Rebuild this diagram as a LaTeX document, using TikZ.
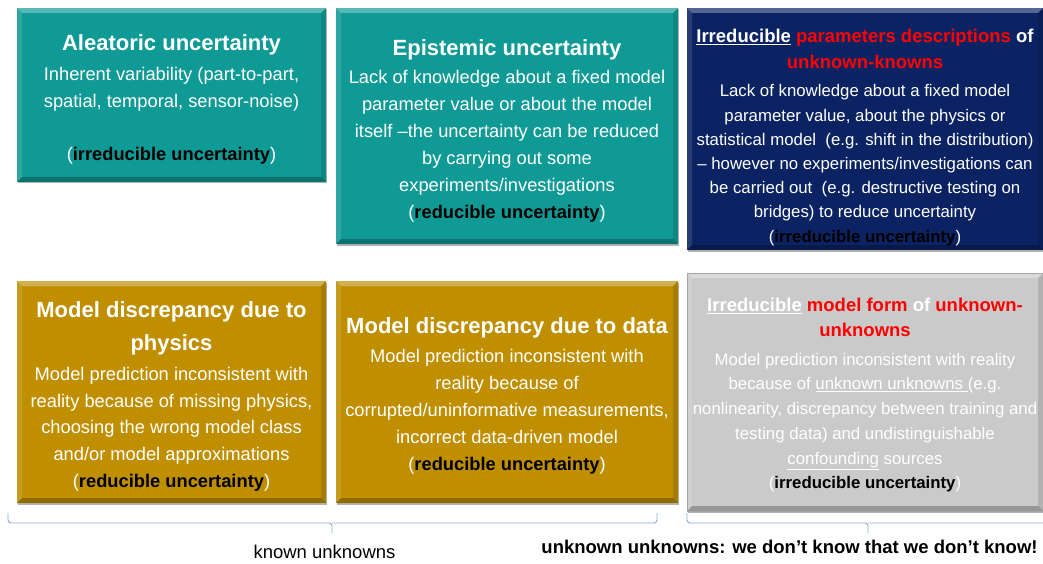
\documentclass[tikz,border=0pt]{standalone}
\usepackage{fontspec}
\setmainfont{Liberation Sans}
\usetikzlibrary{shadows}
\definecolor{tealbox}{RGB}{16,154,149}
\definecolor{navybox}{RGB}{11,35,99}
\definecolor{goldbox}{RGB}{191,143,0}
\definecolor{greybox}{RGB}{202,202,202}
\definecolor{greyedge}{RGB}{165,165,165}
\definecolor{bracecol}{RGB}{142,166,210}
\definecolor{redtxt}{RGB}{255,0,0}
\newcommand{\ttlbig}{\fontsize{22}{26}\selectfont\bfseries}
\newcommand{\ttlsmall}{\fontsize{18.5}{24}\selectfont\bfseries}
\newcommand{\blk}[1]{(\textbf{\color{black}#1})}
\newcommand{\rd}[1]{\textcolor{redtxt}{#1}}
\begin{document}
\begin{tikzpicture}[x=1pt,y=-1pt,
  bevel/.style={path picture={
    \fill[white,opacity=.30] (path picture bounding box.north west) -- (path picture bounding box.north east) -- ([xshift=-5pt,yshift=-5pt]path picture bounding box.north east) -- ([xshift=5pt,yshift=-5pt]path picture bounding box.north west) -- cycle;
    \fill[white,opacity=.12] (path picture bounding box.north west) -- ([xshift=5pt,yshift=-5pt]path picture bounding box.north west) -- ([xshift=5pt,yshift=5pt]path picture bounding box.south west) -- (path picture bounding box.south west) -- cycle;
    \fill[black,opacity=.12] (path picture bounding box.north east) -- ([xshift=-5pt,yshift=-5pt]path picture bounding box.north east) -- ([xshift=-5pt,yshift=5pt]path picture bounding box.south east) -- (path picture bounding box.south east) -- cycle;
    \fill[black,opacity=.25] (path picture bounding box.south west) -- ([xshift=5pt,yshift=5pt]path picture bounding box.south west) -- ([xshift=-5pt,yshift=5pt]path picture bounding box.south east) -- (path picture bounding box.south east) -- cycle;
  }},
  box/.style={rectangle, inner sep=0pt, outer sep=0pt, bevel,
    drop shadow={shadow xshift=1.2pt, shadow yshift=-1.5pt, opacity=0.3, fill=black}},
  txt/.style={align=center, text=white, inner sep=0pt, anchor=north},
  bracket/.style={draw=bracecol, line width=0.9pt, rounded corners=3pt},
  lbl/.style={anchor=base, text=black, inner sep=0pt, font=\fontsize{18.5}{22}\selectfont}
]
\useasboundingbox (0,0) rectangle (1043,564);

% boxes
\node[box, fill=tealbox, minimum width=309pt, minimum height=174pt] (alea) at (171.5,95) {};
\node[box, fill=tealbox, minimum width=342pt, minimum height=236pt] (epis) at (507,126) {};
\node[box, fill=navybox, minimum width=356pt, minimum height=242pt] (param) at (865,129) {};
\node[box, fill=goldbox, minimum width=309pt, minimum height=222pt] (phys) at (171.5,392) {};
\node[box, fill=goldbox, minimum width=342pt, minimum height=222pt] (data) at (507,392) {};
\node[box, fill=greybox, draw=greyedge, line width=0.8pt, minimum width=356pt, minimum height=238pt] (form) at (865,392) {};

% texts
\node[txt, font=\fontsize{18.3}{26.8}\selectfont] (aleaT) at (171.5,34.3) {%
{\ttlbig Aleatoric uncertainty}\\[3.2pt]
Inherent variability (part-to-part,\\
spatial, temporal, sensor-noise)\\[26.8pt]
\blk{irreducible uncertainty}};

\node[txt, font=\fontsize{18.3}{27}\selectfont] (episT) at (507,39.3) {%
{\ttlbig Epistemic uncertainty}\\[1.3pt]
Lack of knowledge about a fixed model\\
parameter value or about the model\\
itself –the uncertainty can be reduced\\
by carrying out some\\
experiments/investigations\\
\blk{reducible uncertainty}};

\node[txt, font=\fontsize{16.8}{24.2}\selectfont] (paramT) at (865,29.2) {%
{\ttlsmall \underline{Irreducible} \rd{parameters descriptions} of}\\[1.4pt]
{\ttlsmall \rd{unknown-knowns}}\\[4.2pt]
Lack of knowledge about a fixed model\\
parameter value, about the physics or\\
statistical model~ (e.g. shift in the distribution)\\
– however no experiments/investigations can\\
be carried out~ (e.g. destructive testing on\\
bridges) to reduce uncertainty\\
\blk{irreducible uncertainty}};

\node[txt, font=\fontsize{18.3}{26.7}\selectfont] (physT) at (171.5,301) {%
{\ttlbig Model discrepancy due to}\\[6.6pt]
{\ttlbig physics}\\[3.3pt]
Model prediction inconsistent with\\
reality because of missing physics,\\
choosing the wrong model class\\
and/or model approximations\\
\blk{reducible uncertainty}};

\node[txt, font=\fontsize{18.3}{27.1}\selectfont] (dataT) at (507,317.3) {%
{\ttlbig Model discrepancy due to data}\\[1.6pt]
Model prediction inconsistent with\\
reality because of\\
corrupted/uninformative measurements,\\
incorrect data-driven model\\
\blk{reducible uncertainty}};

\node[txt, font=\fontsize{16.8}{24.7}\selectfont] (formT) at (865,298.3) {%
{\ttlsmall \underline{Irreducible} \rd{model form} of \rd{unknown-}}\\[0.3pt]
{\ttlsmall \rd{unknowns}}\\[3.6pt]
Model prediction inconsistent with reality\\
because of \underline{unknown unknowns\ }(e.g.\\
nonlinearity, discrepancy between training and\\
testing data) and undistinguishable\\
\underline{confounding} sources\\
\blk{irreducible uncertainty}};

% brackets
\coordinate (b1l) at (8,513);
\coordinate (b1r) at (657,513);
\coordinate (b1m) at (332,533);
\coordinate (b2l) at (687,513);
\coordinate (b2r) at (1049,513);
\coordinate (b2m) at (868,533);
\draw[bracket] (b1l) -- (b1l |- 0,523) -- (b1m |- 0,523) -- (b1m);
\draw[bracket] (b1m |- 0,523) -- (b1r |- 0,523) -- (b1r);
\draw[bracket] (b2l) -- (b2l |- 0,523) -- (b2m |- 0,523) -- (b2m);
\draw[bracket] (b2m |- 0,523) -- (b2r |- 0,523) -- (b2r);

% labels
\node[lbl] (known) at (324.5,558.5) {known unknowns};
\node[lbl, font=\fontsize{18.5}{22}\selectfont\bfseries] (unknown) at (789.5,553) {unknown unknowns: we don’t know that we don’t know!};
\end{tikzpicture}
\end{document}
